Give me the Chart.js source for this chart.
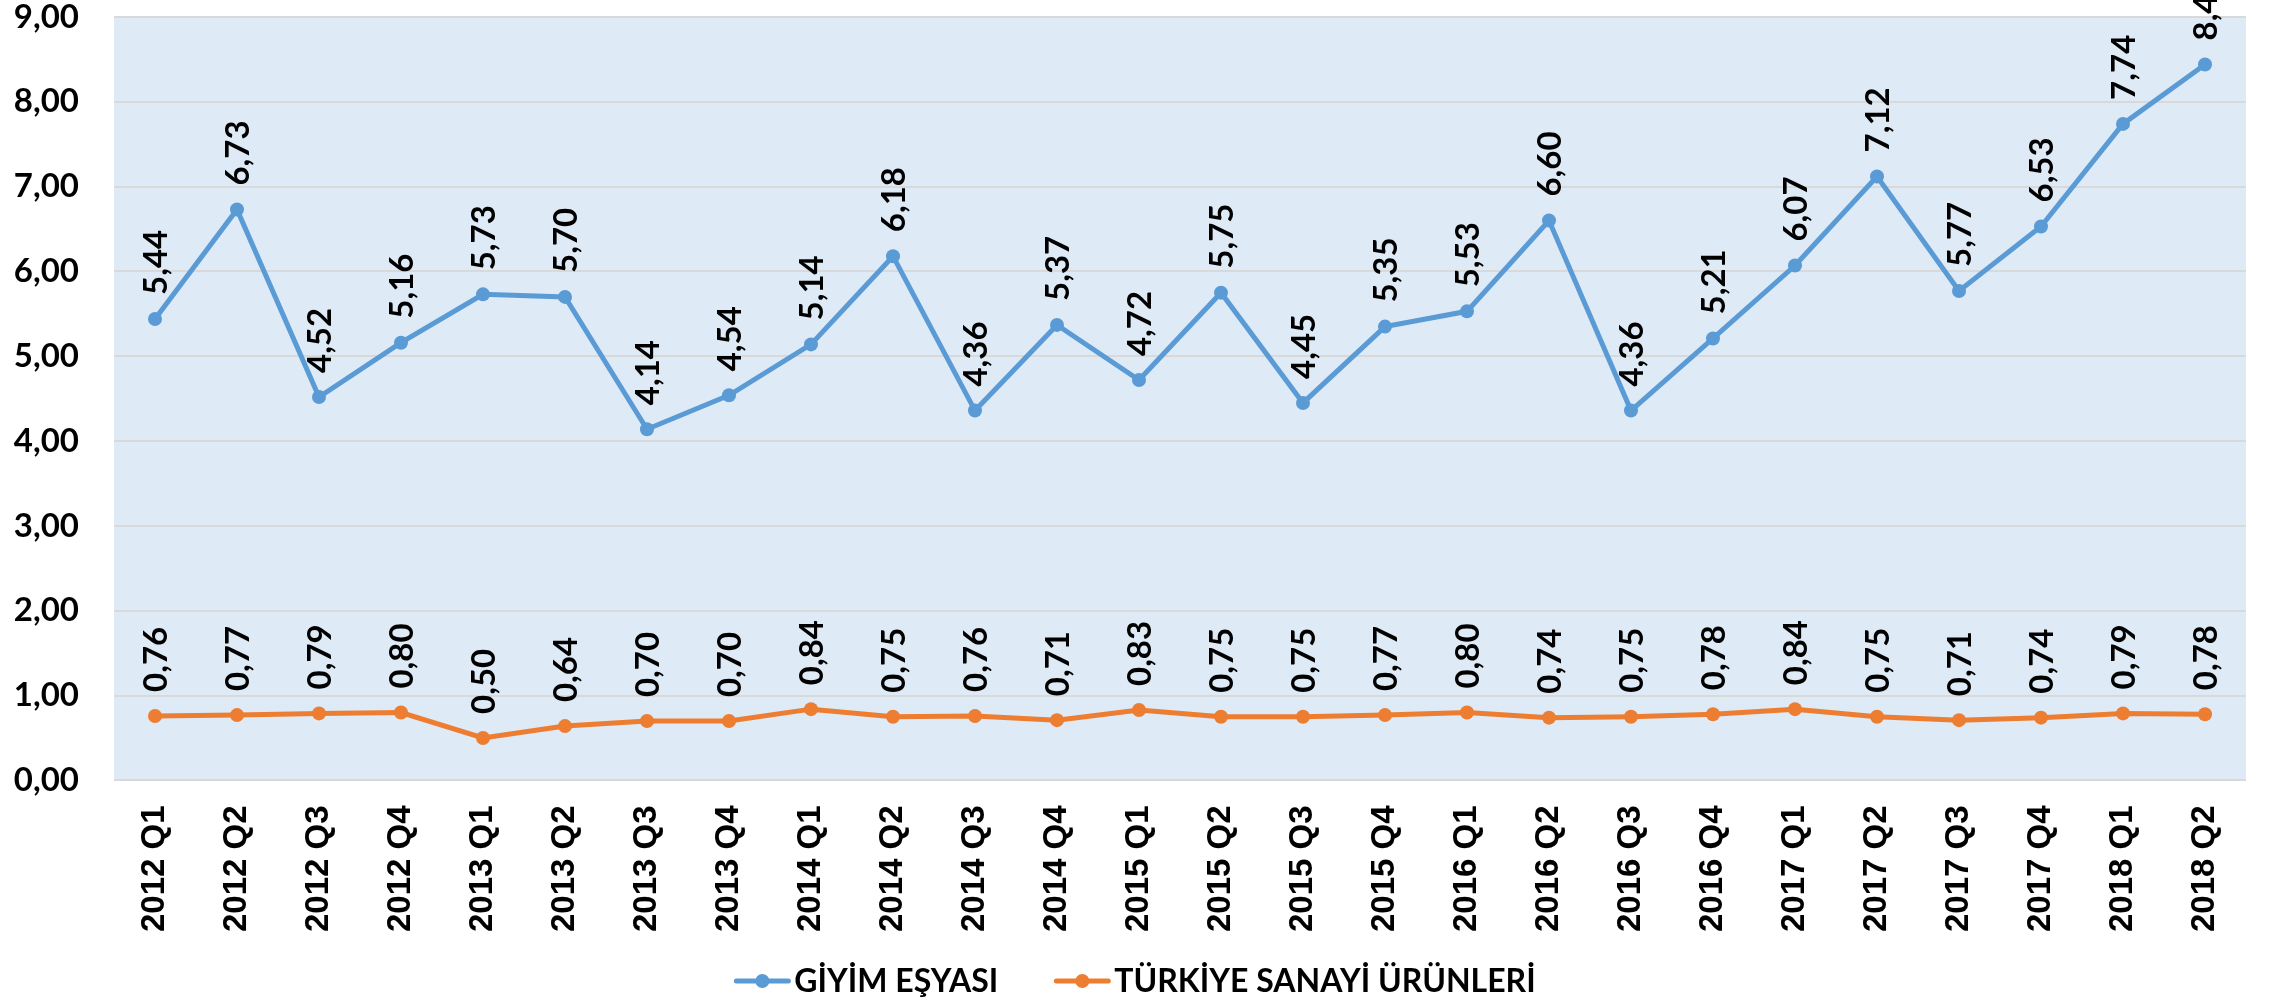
<!DOCTYPE html>
<html>
<head>
<meta charset="utf-8">
<script src="https://cdn.jsdelivr.net/npm/chart.js@4.4.1/dist/chart.umd.min.js"></script>
<style>
    body { margin: 0; background: #fff; }
    canvas { display: block; }
</style>
</head>
<body>
<canvas id="chart" width="2270" height="1000"></canvas>
<script>
// Quarters on the x axis
const quarters = [
    '2012 Q1', '2012 Q2', '2012 Q3', '2012 Q4',
    '2013 Q1', '2013 Q2', '2013 Q3', '2013 Q4',
    '2014 Q1', '2014 Q2', '2014 Q3', '2014 Q4',
    '2015 Q1', '2015 Q2', '2015 Q3', '2015 Q4',
    '2016 Q1', '2016 Q2', '2016 Q3', '2016 Q4',
    '2017 Q1', '2017 Q2', '2017 Q3', '2017 Q4',
    '2018 Q1', '2018 Q2'
];

const giyimValues = [
    5.44, 6.73, 4.52, 5.16,
    5.73, 5.70, 4.14, 4.54,
    5.14, 6.18, 4.36, 5.37,
    4.72, 5.75, 4.45, 5.35,
    5.53, 6.60, 4.36, 5.21,
    6.07, 7.12, 5.77, 6.53,
    7.74, 8.44
];

const sanayiValues = [
    0.76, 0.77, 0.79, 0.80,
    0.50, 0.64, 0.70, 0.70,
    0.84, 0.75, 0.76, 0.71,
    0.83, 0.75, 0.75, 0.77,
    0.80, 0.74, 0.75, 0.78,
    0.84, 0.75, 0.71, 0.74,
    0.79, 0.78
];

const yTicks = [0, 1, 2, 3, 4, 5, 6, 7, 8, 9];

const BLUE = '#5b9bd5';
const ORANGE = '#ed7d31';
const LABEL_FONT = 'Lato, "Open Sans", sans-serif';

const fmt = (v) => v.toFixed(2).replace('.', ',');

const plotBackground = {
    id: 'plotBackground',
    beforeDraw(chart) {
        const { ctx, chartArea } = chart;
        ctx.save();
        ctx.fillStyle = '#deeaf6';
        ctx.fillRect(chartArea.left, chartArea.top, chartArea.right - chartArea.left, chartArea.bottom - chartArea.top);
        ctx.restore();
    }
};

// vertical value labels above each point
const valueLabels = {
    id: 'valueLabels',
    afterDatasetsDraw(chart) {
        const { ctx } = chart;
        ctx.save();
        ctx.font = `bold 33px ${LABEL_FONT}`;
        ctx.fillStyle = '#000';
        ctx.textAlign = 'left';
        ctx.textBaseline = 'middle';
        chart.data.datasets.forEach((ds, i) => {
            const meta = chart.getDatasetMeta(i);
            meta.data.forEach((pt, j) => {
                ctx.save();
                ctx.translate(pt.x + 1, pt.y - 24);
                ctx.rotate(-Math.PI / 2);
                ctx.fillText(fmt(ds.data[j]), 0, 0);
                ctx.restore();
            });
        });
        ctx.restore();
    }
};

// legend under the axis: line + dot marker, then the series name
const lineLegend = {
    id: 'lineLegend',
    afterDraw(chart) {
        const { ctx, width } = chart;
        const markerW = 56, textGap = 4, itemGap = 56, y = 981;
        ctx.save();
        ctx.font = `bold 32px ${LABEL_FONT}`;
        ctx.textBaseline = 'middle';
        const items = chart.data.datasets.map(ds => ({
            text: ds.label,
            color: ds.borderColor,
            w: markerW + textGap + ctx.measureText(ds.label).width
        }));
        const total = items.reduce((s, it) => s + it.w, 0) + itemGap * (items.length - 1);
        let x = width / 2 - total / 2;
        items.forEach(it => {
            ctx.strokeStyle = it.color;
            ctx.lineWidth = 5;
            ctx.lineCap = 'round';
            ctx.beginPath();
            ctx.moveTo(x + 2, y);
            ctx.lineTo(x + markerW - 2, y);
            ctx.stroke();
            ctx.fillStyle = it.color;
            ctx.beginPath();
            ctx.arc(x + markerW / 2, y, 7, 0, Math.PI * 2);
            ctx.fill();
            ctx.fillStyle = '#000';
            ctx.fillText(it.text, x + markerW + textGap, y + 1);
            x += it.w + itemGap;
        });
        ctx.restore();
    }
};

new Chart(document.getElementById('chart').getContext('2d'), {
    type: 'line',
    data: {
        labels: quarters,
        datasets: [
            {
                label: 'GİYİM EŞYASI',
                data: giyimValues,
                borderColor: BLUE,
                backgroundColor: BLUE,
                borderWidth: 5,
                pointRadius: 7,
                pointBackgroundColor: BLUE,
                pointBorderWidth: 0,
                tension: 0
            },
            {
                label: 'TÜRKİYE SANAYİ ÜRÜNLERİ',
                data: sanayiValues,
                borderColor: ORANGE,
                backgroundColor: ORANGE,
                borderWidth: 5,
                pointRadius: 7,
                pointBackgroundColor: ORANGE,
                pointBorderWidth: 0,
                tension: 0
            }
        ]
    },
    options: {
        responsive: false,
        animation: false,
        devicePixelRatio: 1,
        layout: {
            padding: { top: 0, right: 24, left: 0, bottom: 43 }
        },
        plugins: {
            legend: { display: false },
            tooltip: { enabled: false }
        },
        scales: {
            x: {
                offset: true,
                grid: { display: false, drawTicks: false },
                border: { display: false },
                afterFit: (axis) => {
                    axis.paddingLeft = 0;
                    axis.paddingRight = 0;
                },
                ticks: {
                    autoSkip: false,
                    maxRotation: 90,
                    minRotation: 90,
                    padding: 25,
                    color: '#000',
                    font: { family: '"Liberation Sans", Arial, sans-serif', size: 33, weight: 'bold' }
                }
            },
            y: {
                min: 0,
                max: 9,
                afterBuildTicks: (axis) => {
                    axis.ticks = yTicks.map(v => ({ value: v }));
                },
                afterFit: (axis) => {
                    axis.width = 114;
                    axis.paddingTop = 17;
                },
                grid: { color: '#d9d9d9', lineWidth: 2, drawTicks: false },
                border: { display: false },
                ticks: {
                    padding: 35,
                    color: '#000',
                    font: { family: LABEL_FONT, size: 33, weight: 'bold', lineHeight: 1.0 },
                    callback: (value) => fmt(value)
                }
            }
        }
    },
    plugins: [plotBackground, valueLabels, lineLegend]
});
</script>
</body>
</html>
